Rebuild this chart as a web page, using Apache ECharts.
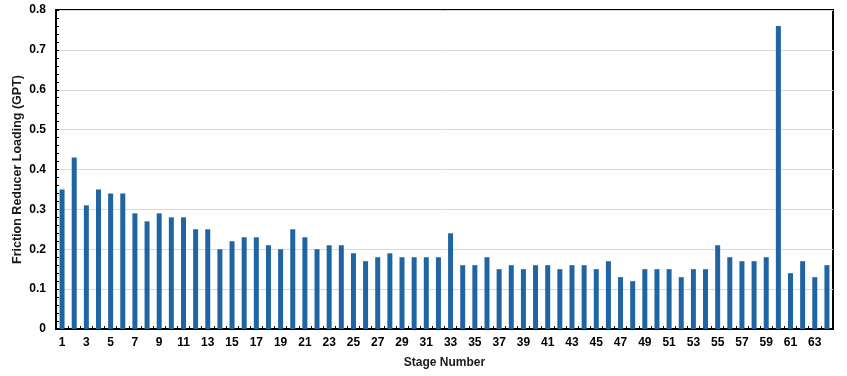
<!DOCTYPE html>
<html>
<head>
<meta charset="utf-8">
<script src="https://cdn.jsdelivr.net/npm/echarts@6/dist/echarts.min.js"></script>
<style>
  html, body { margin: 0; padding: 0; background: #fff; }
  #chart { width: 847px; height: 376px; }
</style>
</head>
<body>
<div id="chart"></div>
<script>
// stage numbers 1..64
var stages = []
for (var i = 1; i <= 64; i++) stages.push(String(i))

// friction reducer loading per stage (GPT)
var loading = [
  0.35, 0.43, 0.31, 0.35, 0.34, 0.34, 0.29, 0.27, 0.29, 0.28,
  0.28, 0.25, 0.25, 0.20, 0.22, 0.23, 0.23, 0.21, 0.20, 0.25,
  0.23, 0.20, 0.21, 0.21, 0.19, 0.17, 0.18, 0.19, 0.18, 0.18,
  0.18, 0.18, 0.24, 0.16, 0.16, 0.18, 0.15, 0.16, 0.15, 0.16,
  0.16, 0.15, 0.16, 0.16, 0.15, 0.17, 0.13, 0.12, 0.15, 0.15,
  0.15, 0.13, 0.15, 0.15, 0.21, 0.18, 0.17, 0.17, 0.18, 0.76,
  0.14, 0.17, 0.13, 0.16
]

var labelFont = 'Liberation Sans, Arial, sans-serif'

var myChart = echarts.init(document.getElementById('chart'))
var option = {
  animation: false,
  grid: {
    left: 56,
    right: 14,
    top: 10,
    bottom: 47,
    outerBoundsMode: 'none',
    containLabel: false,
    show: true,
    borderColor: '#000',
    borderWidth: 2,
  },
  xAxis: {
    type: 'category',
    data: stages,
    name: 'Stage Number',
    nameLocation: 'middle',
    nameGap: 28,
    nameTextStyle: { color: '#1a1a1a', fontSize: 12, fontWeight: 'bold', fontFamily: labelFont },
    axisLine: { lineStyle: { color: '#000', width: 2 } },
    axisTick: { show: true, inside: true, interval: 0, length: 3, lineStyle: { color: '#000', width: 1 } },
    axisLabel: {
      interval: 1,
      margin: 8,
      color: '#000',
      fontSize: 12,
      fontWeight: 'bold',
      fontFamily: labelFont,
    },
  },
  yAxis: {
    type: 'value',
    min: 0,
    max: 0.8,
    interval: 0.1,
    name: 'Friction Reducer Loading (GPT)',
    nameLocation: 'middle',
    nameRotate: 90,
    nameGap: 32,
    nameMoveOverlap: false,
    nameTextStyle: { color: '#1a1a1a', fontSize: 12.5, fontWeight: 'bold', fontFamily: labelFont },
    axisLine: { show: true, lineStyle: { color: '#000', width: 2 } },
    axisTick: { show: true, inside: true, length: 3, lineStyle: { color: '#000' } },
    minorTick: { show: true, splitNumber: 5, length: 3, lineStyle: { color: '#000' } },
    splitLine: { show: true, lineStyle: { color: '#d9d9d9', width: 1 } },
    axisLabel: {
      margin: 10,
      color: '#000',
      fontSize: 12,
      fontWeight: 'bold',
      fontFamily: labelFont,
      formatter: function (v) { return v === 0 ? '0' : v.toFixed(1) },
    },
  },
  series: [
    {
      type: 'bar',
      data: loading,
      barWidth: 5,
      itemStyle: { color: '#1f64a3' },
    },
  ],
}
myChart.setOption(option)
</script>
</body>
</html>
